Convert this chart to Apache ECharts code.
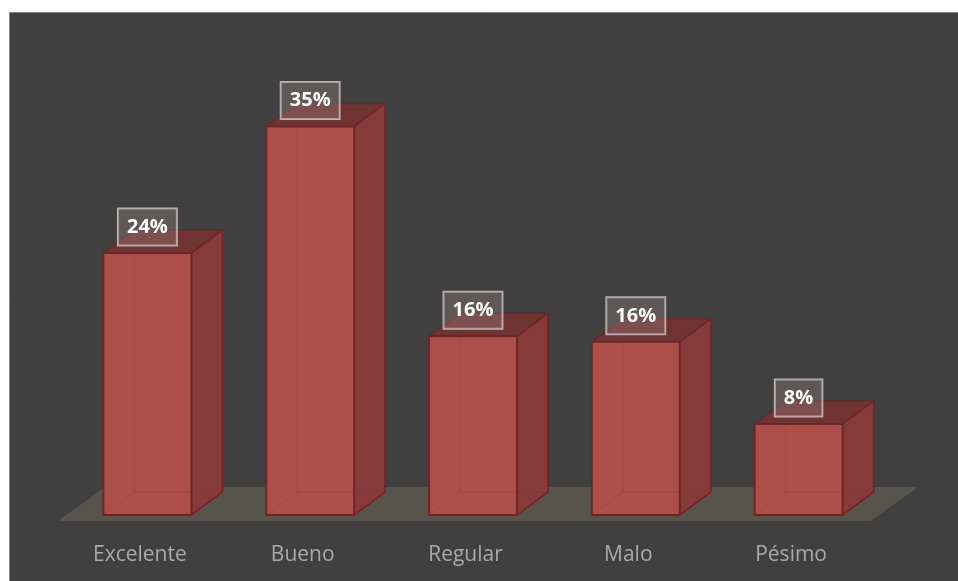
<!DOCTYPE html>
<html><head><meta charset="utf-8">
<style>html,body{margin:0;padding:0;background:#fff}#c{width:958px;height:581px}</style>
<script src="https://cdn.jsdelivr.net/npm/echarts@6/dist/echarts.min.js"></script>
</head><body><div id="c"></div>
<script>
const categories = ['Excelente','Bueno','Regular','Malo','Pésimo'];
const values = [23.6,35,16.1,15.6,8.2];
const labels = ['24%','35%','16%','16%','8%'];

const DX = 31, DY = -23, BAR = 88;
const BORDER = '#6e2523';
function poly(pts, fill, stroke, lw){
  return {type:'polygon', shape:{points:pts}, style:{fill:fill, stroke:stroke||BORDER, lineWidth:lw==null?2:lw, lineJoin:'round'}, silent:true};
}
function renderBar(params, api){
  const i = api.value(0), v = api.value(1);
  const top = api.coord([i, v]), base = api.coord([i, 0]);
  const l = top[0]-BAR/2, r = top[0]+BAR/2, t = top[1], b = base[1];
  const L = (x,y)=>[x+DX,y+DY];
  const ch = [];
  // top and side
  ch.push(poly([[l,t],[r,t],L(r,t),L(l,t)],'#6f3432',BORDER,1.5));
  ch.push(poly([[r,t],L(r,t),L(r,b),[r,b]],'#863b3a',BORDER,1.5));
  // front
  ch.push(poly([[l,t],[r,t],[r,b],[l,b]],'#ad4f49',BORDER,2));
  // hidden rear edges showing through the front face
  const rear = 'rgba(140,45,45,0.25)';
  const edge = (a,c)=>({type:'line', silent:true, shape:{x1:a[0],y1:a[1],x2:c[0],y2:c[1]}, style:{stroke:rear,lineWidth:1}});
  ch.push(edge(L(l,t+2),L(l,b)));
  ch.push(edge(L(l,b),L(r,b)));
  ch.push(edge(L(l,b),[l+1,b-1]));
  // value label
  ch.push({type:'text', z2:10, silent:true, x:top[0], y:t-26,
    style:{text:labels[i], align:'center', verticalAlign:'middle',
      font:'bold 20px "Open Sans"', fill:'#fff',
      backgroundColor:'rgba(150,125,125,0.38)', borderColor:'rgba(215,208,208,0.8)', borderWidth:1,
      padding:[9,9,8,9],
      boxShadowBlur:14, boxShadowColor:'rgba(30,15,15,0.45)'}});
  return {type:'group', children:ch};
}
function renderFloor(params, api){
  const g = params.coordSys;
  const base = g.y+g.height;
  const y1 = base+6, y2 = base-28;
  const x1 = g.x-8, x2 = g.x+g.width-9;
  return {type:'polygon', silent:true, shape:{points:[[x1,y1],[x2,y1],[x2+47,y2],[x1+47,y2]]}, style:{fill:'#57544b'}};
}
const chart = echarts.init(document.getElementById('c'), null, {renderer:'canvas'});
chart.setOption({
  animation:false,
  backgroundColor:'#ffffff',
  graphic:[{type:'rect', z:-10, silent:true, shape:{x:9.5,y:12.5,width:950,height:570},
    style:{fill:'#404040',stroke:'#858585',lineWidth:1}}],
  grid:{left:66,top:71,width:814,height:444},
  xAxis:{type:'category', data:categories,
    axisLine:{show:false}, axisTick:{show:false}, splitLine:{show:false},
    axisLabel:{color:'#a9a9a9', fontFamily:'Open Sans', fontSize:21, margin:30, padding:[0,15,0,0], interval:0}},
  yAxis:{type:'value', min:0, max:40, show:false, splitLine:{show:false}},
  series:[
    {type:'custom', clip:false, silent:true, z:1, renderItem:renderFloor, data:[[0,0]], encode:{x:0,y:1}},
    {type:'custom', clip:false, silent:true, z:2, renderItem:renderBar,
      data:values.map((v,i)=>[i,v]), encode:{x:0,y:1}}
  ]
});
</script></body></html>
